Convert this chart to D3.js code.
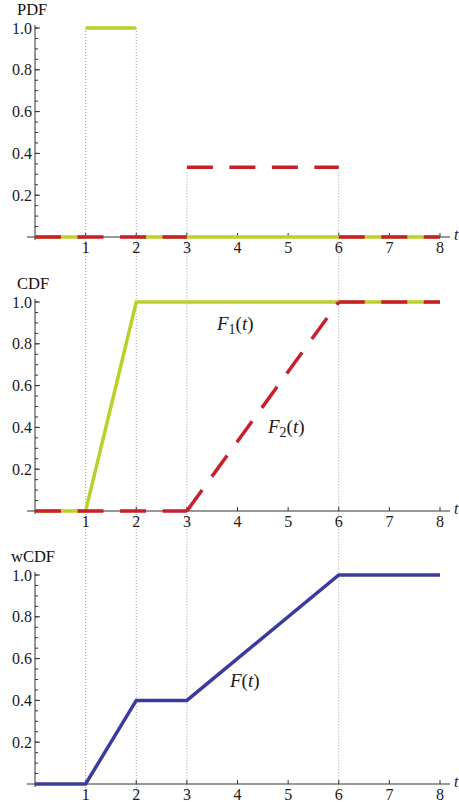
<!DOCTYPE html>
<html>
<head>
<meta charset="utf-8">
<script src="https://cdn.jsdelivr.net/npm/d3@7"></script>
<style>
  body { margin: 0; background: #fff; }
  svg { display: block; font-family: "Liberation Serif", "DejaVu Serif", serif; }
  .tick-label { font-size: 16px; fill: #1a1a1a; }
  .panel-title { font-size: 16.5px; fill: #111; }
  .fn-label { font-size: 19px; fill: #1a1a1a; font-style: italic; }
</style>
</head>
<body>
<svg id="chart" width="459" height="802"></svg>
<script>
// data
const tTicks = [1, 2, 3, 4, 5, 6, 7, 8];
const yTicks = [0.2, 0.4, 0.6, 0.8, 1.0];
const yMinor = d3.range(0.05, 1.0001, 0.05);

// pdf pieces (each piece drawn separately)
const pdf1 = [[[0, 0], [1, 0]], [[1, 1], [2, 1]], [[2, 0], [8, 0]]];
const pdf2 = [[[0, 0], [3, 0]], [[3, 1 / 3], [6, 1 / 3]], [[6, 0], [8, 0]]];

const cdf1 = [[0, 0], [1, 0], [2, 1], [8, 1]];
const cdf2 = [[0, 0], [3, 0], [6, 1], [8, 1]];
const wcdf = [[0, 0], [1, 0], [2, 0.4], [3, 0.4], [6, 1], [8, 1]];

// dotted guides: [t, pdf value where it starts]
const guides = [[1, 1], [2, 1], [3, 1 / 3], [6, 1 / 3]];

const green = "#bccf2a";
const red = "#c7202a";
const blue = "#3b3b9f";

const svg = d3.select("#chart");

const x = d3.scaleLinear().domain([0, 8]).range([35, 440]);

const panels = [
    { title: "PDF", titleX: 17, titleY: 15, top: 28, bottom: 237 },
    { title: "CDF", titleX: 17, titleY: 289, top: 302, bottom: 511 },
    { title: "wCDF", titleX: 11, titleY: 562, top: 575, bottom: 784 },
];
panels.forEach(p => {
    p.y = d3.scaleLinear().domain([0, 1]).range([p.bottom, p.top]);
});

const line = y => d3.line().x(d => x(d[0])).y(d => y(d[1]));

// dotted vertical guides, behind everything
svg.append("g")
    .selectAll("line")
    .data(guides)
    .enter()
    .append("line")
    .attr("x1", d => x(d[0]))
    .attr("x2", d => x(d[0]))
    .attr("y1", d => panels[0].y(d[1]) + (d[1] < 1 ? 5 : 0))
    .attr("y2", 802)
    .attr("stroke", "#9a9a9a")
    .attr("stroke-width", 1)
    .attr("stroke-dasharray", "1,2");

// axes
panels.forEach(p => {
    const g = svg.append("g");

    g.append("line")
        .attr("x1", x(0)).attr("x2", x(0))
        .attr("y1", p.top - 3).attr("y2", p.bottom + 3)
        .attr("stroke", "#333");
    g.append("line")
        .attr("x1", 27).attr("x2", 450)
        .attr("y1", p.bottom).attr("y2", p.bottom)
        .attr("stroke", "#333");

    g.selectAll(".ymin")
        .data(yMinor)
        .enter()
        .append("line")
        .attr("x1", x(0)).attr("x2", x(0) + 3)
        .attr("y1", d => p.y(d)).attr("y2", d => p.y(d))
        .attr("stroke", "#333");
    g.selectAll(".ymaj")
        .data(yTicks)
        .enter()
        .append("line")
        .attr("x1", x(0)).attr("x2", x(0) + 5)
        .attr("y1", d => p.y(d)).attr("y2", d => p.y(d))
        .attr("stroke", "#333");
    g.selectAll(".ylab")
        .data(yTicks)
        .enter()
        .append("text")
        .attr("class", "tick-label")
        .attr("x", 32)
        .attr("y", d => p.y(d))
        .attr("dy", "0.35em")
        .attr("text-anchor", "end")
        .text(d => d3.format(".1f")(d));

    g.selectAll(".xmaj")
        .data(tTicks)
        .enter()
        .append("line")
        .attr("x1", d => x(d)).attr("x2", d => x(d))
        .attr("y1", p.bottom).attr("y2", p.bottom - 4)
        .attr("stroke", "#333");
    g.selectAll(".xlab")
        .data(tTicks)
        .enter()
        .append("text")
        .attr("class", "tick-label")
        .attr("x", d => x(d))
        .attr("y", p.bottom + 16)
        .attr("text-anchor", "middle")
        .text(d => d);

    g.append("text")
        .attr("class", "tick-label")
        .attr("x", 454)
        .attr("y", p.bottom + 3)
        .style("font-style", "italic")
        .text("t");

    g.append("text")
        .attr("class", "panel-title")
        .attr("x", p.titleX)
        .attr("y", p.titleY)
        .text(p.title);
});

// PDF
const pTop = panels[0];
svg.append("g").selectAll("path")
    .data(pdf1)
    .enter()
    .append("path")
    .attr("d", line(pTop.y))
    .attr("fill", "none")
    .attr("stroke", green)
    .attr("stroke-width", 3.5);
svg.append("g").selectAll("path")
    .data(pdf2)
    .enter()
    .append("path")
    .attr("d", line(pTop.y))
    .attr("fill", "none")
    .attr("stroke", red)
    .attr("stroke-width", 3.5)
    .attr("stroke-dasharray", "26,16.5");

// CDF
const pMid = panels[1];
svg.append("path")
    .datum(cdf1)
    .attr("d", line(pMid.y))
    .attr("fill", "none")
    .attr("stroke", green)
    .attr("stroke-width", 3.5);
// each piece of F2 restarts its dash pattern
svg.append("g").selectAll("path")
    .data(d3.pairs(cdf2))
    .enter()
    .append("path")
    .attr("d", line(pMid.y))
    .attr("fill", "none")
    .attr("stroke", red)
    .attr("stroke-width", 3.5)
    .attr("stroke-dasharray", "26,16.5");

const f1 = svg.append("text").attr("class", "fn-label").attr("x", 217).attr("y", 330);
f1.append("tspan").text("F");
f1.append("tspan").attr("dy", 4).style("font-style", "normal").style("font-size", "14px").text("1");
f1.append("tspan").attr("dy", -4).style("font-style", "normal").text("(");
f1.append("tspan").text("t");
f1.append("tspan").style("font-style", "normal").text(")");

const f2 = svg.append("text").attr("class", "fn-label").attr("x", 268).attr("y", 433);
f2.append("tspan").text("F");
f2.append("tspan").attr("dy", 4).style("font-style", "normal").style("font-size", "14px").text("2");
f2.append("tspan").attr("dy", -4).style("font-style", "normal").text("(");
f2.append("tspan").text("t");
f2.append("tspan").style("font-style", "normal").text(")");

// wCDF
const pBot = panels[2];
svg.append("path")
    .datum(wcdf)
    .attr("d", line(pBot.y))
    .attr("fill", "none")
    .attr("stroke", blue)
    .attr("stroke-width", 3.5);

const f3 = svg.append("text").attr("class", "fn-label").attr("x", 230).attr("y", 687);
f3.append("tspan").text("F");
f3.append("tspan").style("font-style", "normal").text("(");
f3.append("tspan").text("t");
f3.append("tspan").style("font-style", "normal").text(")");
</script>
</body>
</html>
